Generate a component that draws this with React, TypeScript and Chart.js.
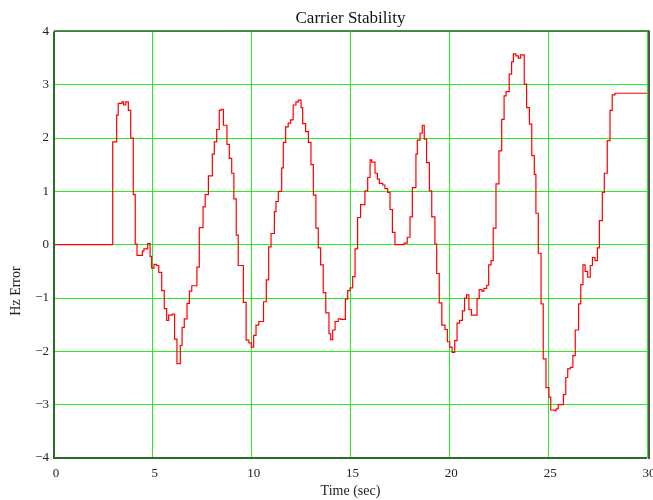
import React, { useEffect, useRef } from 'react';
import { Chart, registerables } from 'chart.js';

Chart.register(...registerables);

// Time (s) at which each step starts
const times = [
  0, 2.97, 3.17, 3.25, 3.44, 3.52, 3.63, 3.76, 3.88, 4.01, 4.11, 4.2, 4.47, 4.55, 4.74, 4.86, 4.94,
  5.06, 5.19, 5.3, 5.45, 5.58, 5.7, 5.8, 5.98, 6.1, 6.22, 6.39, 6.48, 6.59, 6.73, 6.85, 6.97, 7.23,
  7.35, 7.54, 7.65, 7.81, 8.01, 8.11, 8.23, 8.36, 8.45, 8.57, 8.75, 8.87, 8.99, 9.1, 9.22, 9.32,
  9.58, 9.72, 9.86, 9.98, 10.1, 10.22, 10.36, 10.6, 10.74, 10.86, 10.98, 11.15, 11.23, 11.35, 11.52,
  11.6, 11.72, 11.85, 11.97, 12.1, 12.24, 12.36, 12.5, 12.58, 12.73, 12.87, 13.0, 13.12, 13.25,
  13.37, 13.49, 13.62, 13.75, 13.91, 14.0, 14.1, 14.22, 14.38, 14.5, 14.74, 14.86, 14.98, 15.11,
  15.23, 15.36, 15.51, 15.73, 15.87, 15.99, 16.07, 16.24, 16.36, 16.46, 16.63, 16.74, 16.88, 17.0,
  17.12, 17.25, 17.71, 17.87, 18.01, 18.13, 18.31, 18.38, 18.52, 18.63, 18.73, 18.85, 18.99, 19.11,
  19.27, 19.36, 19.49, 19.62, 19.78, 19.9, 20.02, 20.14, 20.27, 20.39, 20.52, 20.66, 20.77, 20.87,
  20.99, 21.12, 21.4, 21.51, 21.64, 21.75, 21.89, 21.99, 22.11, 22.22, 22.36, 22.51, 22.65, 22.77,
  22.87, 23.03, 23.15, 23.24, 23.37, 23.49, 23.61, 23.79, 23.91, 24.05, 24.17, 24.3, 24.38, 24.5,
  24.64, 24.75, 24.89, 25.04, 25.13, 25.3, 25.4, 25.51, 25.77, 25.89, 25.99, 26.12, 26.25, 26.37,
  26.54, 26.65, 26.76, 26.87, 27.0, 27.13, 27.24, 27.37, 27.49, 27.59, 27.74, 27.84, 27.99, 28.13,
  28.24, 28.38, 30,
];

// Hz error value held from each step time
const hzError = [
  0, 1.93, 2.43, 2.65, 2.68, 2.62, 2.68, 2.52, 2.0, 0.94, 0.01, -0.2, -0.12, -0.08, 0.02, -0.22, -0.44,
  -0.37, -0.39, -0.52, -0.86, -1.2, -1.42, -1.32, -1.3, -1.77, -2.23, -1.89, -1.55, -1.39, -1.1, -0.87, -0.77, -0.42,
  0.32, 0.71, 0.94, 1.29, 1.7, 1.93, 2.16, 2.52, 2.54, 2.24, 1.88, 1.62, 1.34, 0.86, 0.18, -0.39,
  -1.08, -1.79, -1.84, -1.92, -1.7, -1.51, -1.44, -1.07, -0.66, -0.04, 0.21, 0.62, 0.81, 1.0, 1.44,
  1.92, 2.21, 2.28, 2.34, 2.62, 2.68, 2.71, 2.57, 2.27, 2.12, 1.92, 1.5, 0.93, 0.31,
  -0.06, -0.38, -0.9, -1.28, -1.67, -1.78, -1.6, -1.44, -1.39, -1.4, -1.02, -0.86, -0.81, -0.6,
  -0.08, 0.51, 0.75, 1.01, 1.26, 1.59, 1.55, 1.34, 1.23, 1.15, 1.12, 1.05, 0.98, 0.66,
  0.23, 0.0, 0.03, 0.14, 0.52, 1.07, 1.7, 1.96, 2.09, 2.24, 1.98, 1.54, 1.01, 0.52,
  0.01, -0.54, -1.09, -1.51, -1.59, -1.82, -1.92, -2.02, -1.8, -1.47, -1.42, -1.24, -1.0, -0.94,
  -1.22, -1.32, -1.01, -0.84, -0.87, -0.82, -0.76, -0.38, -0.3, 0.31, 1.14, 1.76, 2.35, 2.79,
  2.87, 3.2, 3.43, 3.58, 3.54, 3.5, 3.56, 3.01, 2.57, 2.26, 1.67, 1.32, 0.59, -0.16,
  -1.11, -2.14, -2.68, -2.86, -3.1, -3.11, -3.08, -3.0, -2.81, -2.49, -2.33, -2.3, -2.08, -1.6,
  -1.11, -0.75, -0.38, -0.5, -0.61, -0.39, -0.24, -0.3, -0.06, 0.45, 0.98, 1.34, 1.95, 2.52,
  2.81, 2.84, 2.84,
];

const xMin = 0;
const xMax = 30;
const xStep = 5;
const yMin = -4;
const yMax = 4;
const yStep = 1;

const titleText = 'Carrier Stability';
const xTitle = 'Time (sec)';
const yTitle = 'Hz Error';

const SERIF = '"Liberation Serif", "Times New Roman", serif';

const framePlugin = {
  id: 'frame',
  afterDraw(chart: any) {
    const { ctx, chartArea: a } = chart;
    ctx.save();
    // left & bottom border (dark green)
    ctx.strokeStyle = '#2b6a2b';
    ctx.lineWidth = 2;
    ctx.beginPath();
    ctx.moveTo(a.left, a.top);
    ctx.lineTo(a.left, a.bottom);
    ctx.lineTo(a.right, a.bottom);
    ctx.stroke();
    // top border
    ctx.strokeStyle = '#1a1a1a';
    ctx.lineWidth = 1;
    ctx.beginPath();
    ctx.moveTo(a.left, a.top - 0.5);
    ctx.lineTo(a.right + 2, a.top - 0.5);
    ctx.stroke();
    // right border
    ctx.strokeStyle = '#555555';
    ctx.lineWidth = 2;
    ctx.beginPath();
    ctx.moveTo(a.right + 2, a.top - 1);
    ctx.lineTo(a.right + 2, a.bottom + 1);
    ctx.stroke();
    // y axis title
    ctx.fillStyle = '#222';
    ctx.font = '14px ' + SERIF;
    ctx.textAlign = 'center';
    ctx.textBaseline = 'middle';
    ctx.translate(16, 291);
    ctx.rotate(-Math.PI / 2);
    ctx.fillText(yTitle, 0, 0);
    ctx.restore();
  },
};

export default function App() {
  const ref = useRef<HTMLCanvasElement | null>(null);

  useEffect(() => {
    if (!ref.current) return;
    const points = times.map((t, i) => ({ x: t, y: hzError[i] }));
    const chart = new Chart(ref.current, {
      type: 'line',
      data: {
        datasets: [
          {
            data: points,
            borderColor: '#ff0000',
            borderWidth: 1.2,
            pointRadius: 0,
            stepped: 'before',
            fill: false,
          },
        ],
      },
      options: {
        responsive: false,
        animation: false,
        layout: { padding: { left: 0, right: 33, top: 0, bottom: 0 } },
        plugins: {
          legend: { display: false },
          tooltip: { enabled: false },
          title: {
            display: true,
            text: titleText,
            fullSize: false,
            color: '#111',
            font: { family: SERIF, size: 17, weight: 'normal' },
            padding: { top: 8, bottom: 3 },
          },
        },
        scales: {
          x: {
            type: 'linear',
            min: xMin,
            max: xMax,
            afterFit: (s: any) => {
              s.height = 42;
            },
            ticks: {
              stepSize: xStep,
              color: '#222',
              font: { family: SERIF, size: 13 },
              padding: 8,
              labelOffset: 2,
              maxRotation: 0,
            },
            grid: { color: '#22ee22', lineWidth: 1, drawTicks: false },
            border: { display: false },
            title: {
              display: true,
              text: xTitle,
              color: '#222',
              font: { family: SERIF, size: 14 },
              padding: { top: 0, bottom: 0 },
            },
          },
          y: {
            type: 'linear',
            min: yMin,
            max: yMax,
            afterFit: (s: any) => {
              s.width = 54;
            },
            ticks: {
              stepSize: yStep,
              color: '#222',
              font: { family: SERIF, size: 13 },
              padding: 5,
              callback: (v: any) => String(v).replace('-', '\u2212'),
            },
            grid: { color: '#22ee22', lineWidth: 1, drawTicks: false },
            border: { display: false },
          },
        },
      },
      plugins: [framePlugin],
    });
    return () => chart.destroy();
  }, []);

  return (
    <div
      style={{
        position: 'absolute',
        left: 0,
        top: 0,
        width: 653,
        height: 500,
        overflow: 'hidden',
        background: '#fff',
      }}
    >
      <canvas ref={ref} width={680} height={500} style={{ width: 680, height: 500, display: 'block' }} />
    </div>
  );
}
